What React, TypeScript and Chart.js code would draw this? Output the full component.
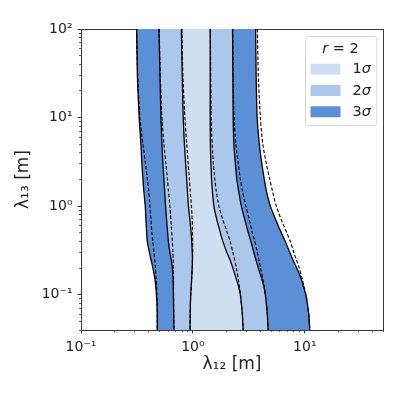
import { useEffect, useRef } from 'react';
import { Chart, registerables } from 'chart.js';

Chart.register(...registerables);

// ---------- data ----------
// λ13 sample values (y axis), shared by every boundary curve
const lambda13 = [100, 30, 10, 5, 3, 2, 1.5, 1, 0.7, 0.5, 0.4, 0.3, 0.25, 0.2, 0.15, 0.12, 0.1, 0.08, 0.06, 0.04];

// solid boundaries (λ12 values) from left to right
const sigma3Left = [0.314, 0.319, 0.331, 0.343, 0.350, 0.358, 0.364, 0.375, 0.381, 0.386, 0.391, 0.409, 0.422, 0.439, 0.458, 0.467, 0.472, 0.477, 0.480, 0.480];
const sigma2Left = [0.497, 0.508, 0.518, 0.529, 0.540, 0.551, 0.559, 0.570, 0.582, 0.595, 0.604, 0.623, 0.640, 0.656, 0.666, 0.668, 0.670, 0.671, 0.674, 0.677];
const sigma1Left = [0.789, 0.803, 0.819, 0.840, 0.861, 0.880, 0.893, 0.912, 0.940, 0.964, 0.976, 0.986, 0.990, 0.986, 0.974, 0.964, 0.956, 0.950, 0.946, 0.944];
const sigma1Right = [1.427, 1.427, 1.427, 1.433, 1.448, 1.469, 1.493, 1.540, 1.638, 1.760, 1.853, 2.012, 2.140, 2.276, 2.446, 2.575, 2.656, 2.710, 2.767, 2.813];
const sigma2Right = [2.262, 2.276, 2.290, 2.323, 2.396, 2.471, 2.559, 2.710, 2.913, 3.130, 3.295, 3.504, 3.652, 3.844, 4.131, 4.331, 4.439, 4.531, 4.626, 4.702];
const sigma3Right = [3.637, 3.675, 3.751, 3.925, 4.131, 4.349, 4.532, 4.920, 5.510, 6.169, 6.698, 7.346, 7.814, 8.483, 9.307, 9.797, 10.21, 10.53, 10.86, 11.08];

// dashed comparison boundaries (λ12 values)
const dashed3Left = [0.314, 0.321, 0.336, 0.358, 0.377, 0.392, 0.403, 0.413, 0.422, 0.430, 0.439, 0.449, 0.456, 0.463, 0.470, 0.475, 0.477, 0.479, 0.480, 0.480];
const dashed2Left = [0.500, 0.511, 0.529, 0.551, 0.574, 0.592, 0.604, 0.623, 0.636, 0.647, 0.655, 0.663, 0.667, 0.670, 0.671, 0.671, 0.671, 0.673, 0.674, 0.677];
const dashed1Left = [0.798, 0.814, 0.848, 0.881, 0.908, 0.931, 0.946, 0.970, 0.986, 0.994, 0.996, 0.996, 0.992, 0.986, 0.976, 0.966, 0.958, 0.950, 0.946, 0.944];
const dashed1Right = [1.433, 1.442, 1.457, 1.487, 1.524, 1.572, 1.614, 1.707, 1.853, 2.032, 2.153, 2.276, 2.357, 2.446, 2.548, 2.612, 2.661, 2.710, 2.767, 2.813];
const dashed2Right = [2.267, 2.290, 2.333, 2.421, 2.548, 2.656, 2.767, 2.973, 3.196, 3.399, 3.578, 3.766, 3.884, 4.030, 4.217, 4.358, 4.449, 4.541, 4.626, 4.702];
const dashed3Right = [3.766, 3.844, 4.006, 4.217, 4.532, 4.870, 5.127, 5.567, 6.169, 6.908, 7.421, 7.976, 8.398, 8.932, 9.499, 9.917, 10.25, 10.55, 10.86, 11.08];

// ticks
const xMajorTicks = [0.1, 1, 10];
const xMajorLabels = ['10⁻¹', '10⁰', '10¹'];
const xMinorTicks = [0.2, 0.3, 0.4, 0.5, 0.6, 0.7, 0.8, 0.9, 2, 3, 4, 5, 6, 7, 8, 9, 20, 30, 40, 50];
const yMajorTicks = [0.1, 1, 10, 100];
const yMajorLabels = ['10⁻¹', '10⁰', '10¹', '10²'];
const yMinorTicks = [0.04, 0.05, 0.06, 0.07, 0.08, 0.09, 0.2, 0.3, 0.4, 0.5, 0.6, 0.7, 0.8, 0.9, 2, 3, 4, 5, 6, 7, 8, 9, 20, 30, 40, 50, 60, 70, 80, 90];

const xTitle = 'λ₁₂ [m]';
const yTitle = 'λ₁₃ [m]';
const legendTitleVar = 'r';
const legendTitleRest = ' = 2';
const legendNumbers = ['1', '2', '3'];
const legendSymbol = 'σ';

// ---------- styles ----------
const FONT = '"DejaVu Sans", sans-serif';
const TEXT = '#1e1e1e';
const AXIS = '#3a3a3a';
const C1 = '#cfdff2';
const C2 = '#abc7eb';
const C3 = '#5b8fd6';
const legendColors = [C1, C2, C3];

function pts(xs: number[]) {
  return xs.map((x, i) => ({ x, y: lambda13[i] }));
}
function band(a: number[], b: number[]) {
  return [...pts(a), ...pts(b).reverse()];
}

const legendPlugin = {
  id: 'sigmaLegend',
  afterDraw(chart: any) {
    const ctx = chart.ctx as CanvasRenderingContext2D;
    ctx.save();
    const bx = 305.5, by = 36.5, bw = 71.5, bh = 89, r = 3;
    ctx.beginPath();
    ctx.moveTo(bx + r, by);
    ctx.lineTo(bx + bw - r, by);
    ctx.quadraticCurveTo(bx + bw, by, bx + bw, by + r);
    ctx.lineTo(bx + bw, by + bh - r);
    ctx.quadraticCurveTo(bx + bw, by + bh, bx + bw - r, by + bh);
    ctx.lineTo(bx + r, by + bh);
    ctx.quadraticCurveTo(bx, by + bh, bx, by + bh - r);
    ctx.lineTo(bx, by + r);
    ctx.quadraticCurveTo(bx, by, bx + r, by);
    ctx.closePath();
    ctx.fillStyle = 'rgba(255,255,255,0.8)';
    ctx.fill();
    ctx.strokeStyle = '#d4d4d4';
    ctx.lineWidth = 1;
    ctx.stroke();

    ctx.textBaseline = 'middle';
    ctx.fillStyle = TEXT;
    const normal = `14.5px ${FONT}`;
    const italic = `italic 14.5px ${FONT}`;
    ctx.font = italic;
    const wr = ctx.measureText(legendTitleVar).width;
    ctx.font = normal;
    const wrest = ctx.measureText(legendTitleRest).width;
    const tx = 340.5 - (wr + wrest) / 2;
    ctx.font = italic;
    ctx.textAlign = 'left';
    ctx.fillText(legendTitleVar, tx, 49);
    ctx.font = normal;
    ctx.fillText(legendTitleRest, tx + wr, 49);

    const rowY = [69.2, 90.5, 111.8];
    legendNumbers.forEach((n, i) => {
      ctx.fillStyle = legendColors[i];
      ctx.fillRect(310.5, rowY[i] - 5.5, 30, 11);
      ctx.fillStyle = TEXT;
      ctx.font = normal;
      ctx.fillText(n, 352.5, rowY[i] + 0.5);
      const wn = ctx.measureText(n).width;
      ctx.font = italic;
      ctx.fillText(legendSymbol, 352.5 + wn, rowY[i] + 0.5);
    });
    ctx.restore();
  },
};

function logAxis(pos: string, min: number, max: number, extra: any) {
  return { type: 'logarithmic', position: pos, min, max, ...extra };
}

export default function App() {
  const ref = useRef<HTMLCanvasElement>(null);

  useEffect(() => {
    const canvas = ref.current;
    if (!canvas) return;

    const fillDs = (a: number[], b: number[], color: string) => ({
      data: band(a, b),
      showLine: true,
      fill: 'shape',
      backgroundColor: color,
      borderColor: 'rgba(0,0,0,0)',
      borderWidth: 0,
      pointRadius: 0,
      pointBorderWidth: 0,
      tension: 0,
      order: 2,
    });
    const lineDs = (a: number[], dashed: boolean) => ({
      data: pts(a),
      showLine: true,
      fill: false,
      borderColor: '#000',
      borderWidth: dashed ? 1.1 : 1.3,
      borderDash: dashed ? [3.5, 2] : [],
      pointRadius: 0,
      pointBorderWidth: 0,
      tension: 0.25,
      order: dashed ? 0 : 1,
    });

    const tickFont = { family: FONT, size: 14 };
    const titleFont = { family: FONT, size: 17 };

    const chart = new Chart(canvas, {
      type: 'scatter',
      data: {
        datasets: [
          fillDs(sigma3Left, sigma2Left, C3),
          fillDs(sigma2Left, sigma1Left, C2),
          fillDs(sigma1Left, sigma1Right, C1),
          fillDs(sigma1Right, sigma2Right, C2),
          fillDs(sigma2Right, sigma3Right, C3),
          lineDs(sigma3Left, false),
          lineDs(sigma2Left, false),
          lineDs(sigma1Left, false),
          lineDs(sigma1Right, false),
          lineDs(sigma2Right, false),
          lineDs(sigma3Right, false),
          lineDs(dashed3Left, true),
          lineDs(dashed2Left, true),
          lineDs(dashed1Left, true),
          lineDs(dashed1Right, true),
          lineDs(dashed2Right, true),
          lineDs(dashed3Right, true),
        ] as any,
      },
      options: {
        responsive: false,
        animation: false,
        events: [],
        layout: { padding: { left: 0, top: 29, right: 20, bottom: 0 }, autoPadding: false },
        plugins: { legend: { display: false }, tooltip: { enabled: false } },
        scales: {
          x: logAxis('bottom', 0.1, 50, {
            weight: 1,
            afterBuildTicks: (s: any) => { s.ticks = xMajorTicks.map((v) => ({ value: v })); },
            afterFit: (s: any) => { s.height = 67; },
            ticks: { autoSkip: false, maxRotation: 0, padding: 5, color: TEXT, font: tickFont, callback: (_v: any, i: number) => xMajorLabels[i] },
            grid: { drawOnChartArea: false, drawTicks: true, tickLength: 3.5, tickColor: AXIS, tickWidth: 1 },
            border: { display: true, color: AXIS, width: 1 },
            title: { display: true, text: xTitle, color: TEXT, font: titleFont, padding: { top: 0, bottom: 21.8 } },
          }),
          xMinor: logAxis('bottom', 0.1, 50, {
            weight: 0,
            afterBuildTicks: (s: any) => { s.ticks = xMinorTicks.map((v) => ({ value: v })); },
            afterFit: (s: any) => { s.height = 0; },
            ticks: { display: false },
            grid: { drawOnChartArea: false, drawTicks: true, tickLength: 2, tickColor: AXIS, tickWidth: 0.8 },
            border: { display: false },
          }),
          xTop: logAxis('top', 0.1, 50, {
            afterFit: (s: any) => { s.height = 0; },
            ticks: { display: false },
            grid: { drawOnChartArea: false, drawTicks: false },
            border: { display: true, color: AXIS, width: 1 },
          }),
          y: logAxis('left', 0.04, 100, {
            weight: 1,
            afterBuildTicks: (s: any) => { s.ticks = yMajorTicks.map((v) => ({ value: v })); },
            afterFit: (s: any) => { s.width = 81; },
            ticks: { autoSkip: false, padding: 5, color: TEXT, font: tickFont, callback: (_v: any, i: number) => yMajorLabels[i] },
            grid: { drawOnChartArea: false, drawTicks: true, tickLength: 3.5, tickColor: AXIS, tickWidth: 1 },
            border: { display: true, color: AXIS, width: 1 },
            title: { display: true, text: yTitle, color: TEXT, font: titleFont, padding: { top: 13.8, bottom: 0 } },
          }),
          yMinor: logAxis('left', 0.04, 100, {
            weight: 0,
            afterBuildTicks: (s: any) => { s.ticks = yMinorTicks.map((v) => ({ value: v })); },
            afterFit: (s: any) => { s.width = 0; },
            ticks: { display: false },
            grid: { drawOnChartArea: false, drawTicks: true, tickLength: 2, tickColor: AXIS, tickWidth: 0.8 },
            border: { display: false },
          }),
          yRight: logAxis('right', 0.04, 100, {
            afterFit: (s: any) => { s.width = 0; },
            ticks: { display: false },
            grid: { drawOnChartArea: false, drawTicks: false },
            border: { display: true, color: AXIS, width: 1 },
          }),
        } as any,
      },
      plugins: [legendPlugin],
    });

    return () => chart.destroy();
  }, []);

  return (
    <div style={{ position: 'fixed', left: 0, top: 0, width: 403, height: 397, background: '#fff' }}>
      <canvas ref={ref} width={403} height={397} style={{ display: 'block' }} />
    </div>
  );
}
